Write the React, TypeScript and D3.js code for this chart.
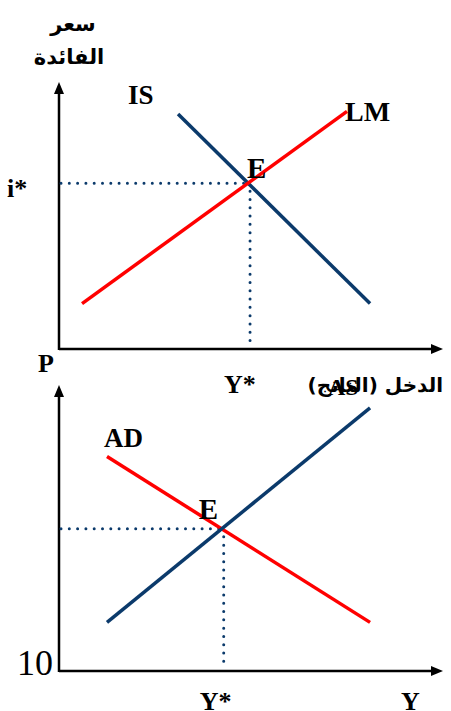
import React from 'react';
import * as d3 from 'd3';

// top panel: IS-LM, bottom panel: AD-AS (values in 0..100 units on each axis)
const lmX = [6, 75];
const lmY = [17, 89];
const isX = [31, 81];
const isY = [88, 17];
const asX = [12.5, 81];
const asY = [17, 92];
const adX = [12.5, 81];
const adY = [75, 17];

const topCurveLabels = ['IS', 'LM', 'E'];
const bottomCurveLabels = ['AD', 'AS', 'E'];
const topAxisLabels = ['سعر', 'الفائدة', 'الدخل (الناتج)', 'i*', 'Y*'];
const bottomAxisLabels = ['P', '10', 'Y*', 'Y'];

const W = 451;
const H = 711;
const FONT = "'Times New Roman', 'Liberation Serif', 'DejaVu Serif', serif";
const AR_FONT = "'DejaVu Sans', sans-serif";
const RED = '#ff0000';
const NAVY = '#0b3a6b';

type Pt = [number, number];

function toPts(xs: number[], ys: number[]): Pt[] {
  return xs.map((x, i) => [x, ys[i]] as Pt);
}

// where two straight segments meet
function intersect(a: Pt[], b: Pt[]): Pt {
  const m1 = (a[1][1] - a[0][1]) / (a[1][0] - a[0][0]);
  const m2 = (b[1][1] - b[0][1]) / (b[1][0] - b[0][0]);
  const c1 = a[0][1] - m1 * a[0][0];
  const c2 = b[0][1] - m2 * b[0][0];
  const x = (c2 - c1) / (m1 - m2);
  return [x, m1 * x + c1];
}

const Panel = ({ xScale, yScale, up, down, upColor, downColor }: any) => {
  const line = d3.line<Pt>().x(d => xScale(d[0])).y(d => yScale(d[1]));
  const e = intersect(up, down);
  const [x0, x1] = xScale.range();
  const [y0, y1] = yScale.range();
  const ex = xScale(e[0]);
  const ey = yScale(e[1]);
  return (
    <g>
      <line x1={x0} y1={y0} x2={x1 - 8} y2={y0} stroke="#000" strokeWidth={2.5} />
      <path d={`M${x1},${y0}L${x1 - 12},${y0 - 5}L${x1 - 12},${y0 + 5}Z`} fill="#000" />
      <line x1={x0} y1={y0 + 1} x2={x0} y2={y1 + 8} stroke="#000" strokeWidth={2.5} />
      <path d={`M${x0},${y1}L${x0 - 5},${y1 + 12}L${x0 + 5},${y1 + 12}Z`} fill="#000" />
      <line x1={x0 + 2} y1={ey} x2={ex} y2={ey} stroke={NAVY} strokeWidth={3}
        strokeDasharray="0 8.3" strokeLinecap="round" />
      <line x1={ex + 2} y1={ey + 8} x2={ex + 2} y2={y0 - 6} stroke={NAVY} strokeWidth={3}
        strokeDasharray="0 8.3" strokeLinecap="round" />
      <path d={line(down) as string} stroke={downColor} strokeWidth={3.5} fill="none" />
      <path d={line(up) as string} stroke={upColor} strokeWidth={3.5} fill="none" />
    </g>
  );
};

const App = () => {
  const topX = d3.scaleLinear().domain([0, 100]).range([59, 443]);
  const topY = d3.scaleLinear().domain([0, 100]).range([349, 82]);
  const botX = d3.scaleLinear().domain([0, 100]).range([59, 443]);
  const botY = d3.scaleLinear().domain([0, 100]).range([671, 385]);

  const lm = toPts(lmX, lmY);
  const is = toPts(isX, isY);
  const as = toPts(asX, asY);
  const ad = toPts(adX, adY);
  const eTop = intersect(lm, is);
  const eBot = intersect(as, ad);

  const bold = { fontFamily: FONT, fontWeight: 700, fill: '#000' } as const;
  const arBold = { fontFamily: AR_FONT, fontWeight: 700, fill: '#000' } as const;

  return (
    <svg width={W} height={H} style={{ position: 'absolute', left: 0, top: 0 }}>
      <rect width={W} height={H} fill="#fff" />
      <Panel xScale={topX} yScale={topY} up={lm} down={is} upColor={RED} downColor={NAVY} />
      <Panel xScale={botX} yScale={botY} up={as} down={ad} upColor={NAVY} downColor={RED} />

      {/* top panel text */}
      <text x={73} y={31} textAnchor="middle" fontSize={21} {...arBold}>{topAxisLabels[0]}</text>
      <text x={69} y={64} textAnchor="middle" fontSize={21} {...arBold}>{topAxisLabels[1]}</text>
      <text x={443} y={392} direction="rtl" textAnchor="start" fontSize={20} {...arBold}>{topAxisLabels[2]}</text>
      <text x={7} y={197} fontSize={26} {...bold}>{topAxisLabels[3]}</text>
      <text x={topX(eTop[0]) - 24} y={393} fontSize={26} {...bold}>{topAxisLabels[4]}</text>
      <text x={128} y={104} fontSize={27} {...bold}>{topCurveLabels[0]}</text>
      <text x={345} y={121} fontSize={28} {...bold}>{topCurveLabels[1]}</text>
      <text x={topX(eTop[0]) - 1} y={178} fontSize={29} {...bold}>{topCurveLabels[2]}</text>

      {/* bottom panel text */}
      <text x={38} y={372} fontSize={26} {...bold}>{bottomAxisLabels[0]}</text>
      <text x={53} y={675} textAnchor="end" fontSize={36} fontFamily={FONT} fill="#000">{bottomAxisLabels[1]}</text>
      <text x={botX(eBot[0]) - 22} y={710} fontSize={26} {...bold}>{bottomAxisLabels[2]}</text>
      <text x={401} y={710} fontSize={26} {...bold}>{bottomAxisLabels[3]}</text>
      <text x={104} y={447} fontSize={27} {...bold}>{bottomCurveLabels[0]}</text>
      <text x={328} y={395} fontSize={24} {...bold}>{bottomCurveLabels[1]}</text>
      <text x={botX(eBot[0]) - 23} y={519} fontSize={29} {...bold}>{bottomCurveLabels[2]}</text>
    </svg>
  );
};

export default App;
